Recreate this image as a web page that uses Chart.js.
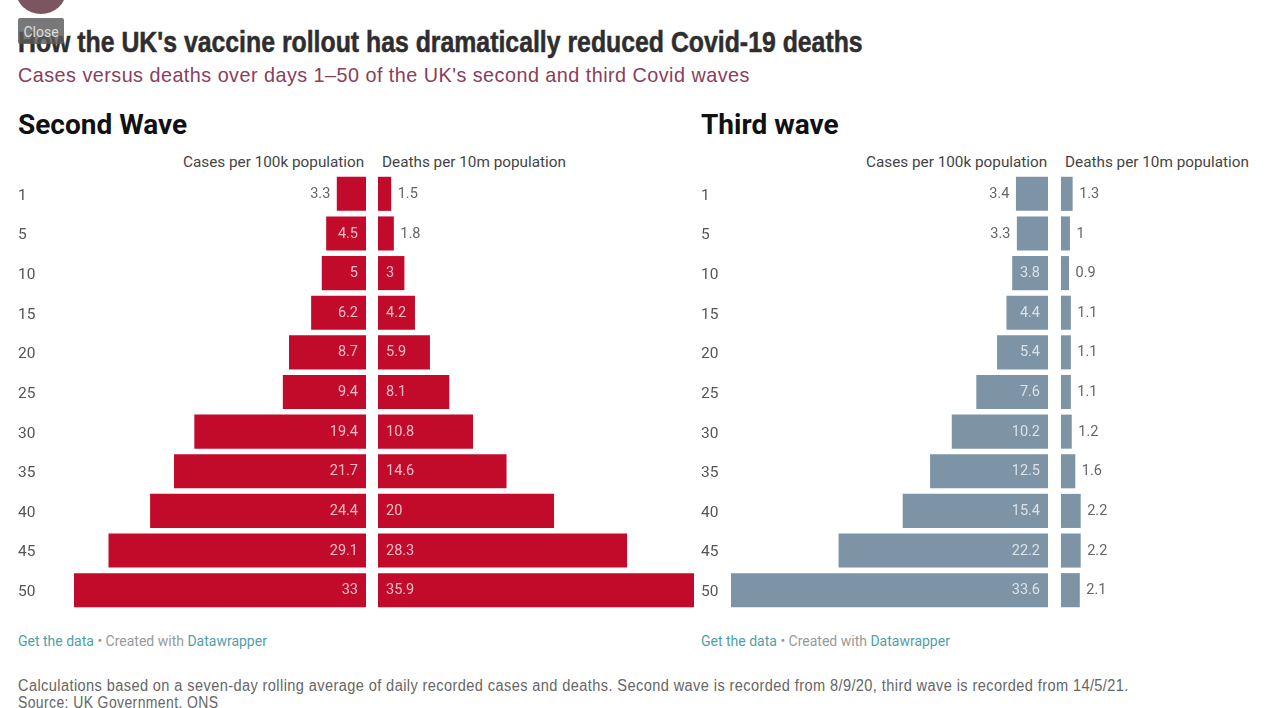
<!DOCTYPE html>
<html>
<head>
<meta charset="utf-8">
<title>UK vaccine rollout</title>
<script src="https://cdn.jsdelivr.net/npm/chart.js@4/dist/chart.umd.min.js"></script>
<style>
  html, body { margin: 0; padding: 0; background: #fff; width: 1280px; height: 708px; overflow: hidden; }
  body { position: relative; font-family: Roboto, sans-serif; }
  canvas { position: absolute; }
  .t { position: absolute; white-space: nowrap; line-height: 1; transform-origin: 0 0; }
  .title { left: 18px; top: 26px; font: bold 29px "Liberation Sans", sans-serif; color: #2e2e2e; transform: scaleX(.856); -webkit-text-stroke: .5px #2e2e2e; }
  .sub { left: 18px; top: 63px; font: 21px "Liberation Sans", sans-serif; color: #8a3d5c; letter-spacing: .5px; transform: scaleX(.942); }
  .wave { top: 108px; font: 700 28px Roboto, sans-serif; color: #111; }
  .head { top: 153px; font: 15.3px Roboto, sans-serif; color: #444; }
  .foot { top: 633px; font: 14px Roboto, sans-serif; color: #999; }
  .foot b { font-weight: 400; color: #4f9fa8; }
  .note { left: 18px; font: 16px "Liberation Sans", sans-serif; color: #666; letter-spacing: .45px; }
  .avatar { position: absolute; left: 16px; top: -32px; width: 50px; height: 46px; border-radius: 50%; background: #7b5560; }
  .close { position: absolute; left: 18px; top: 18px; width: 46px; height: 26px; background: rgba(90,90,90,.82); border-radius: 2px; color: #ddd; font: 14px Roboto, sans-serif; line-height: 29px; text-align: center; }
</style>
</head>
<body>
<div class="t title">How the UK's vaccine rollout has dramatically reduced Covid-19 deaths</div>
<div class="t sub">Cases versus deaths over days 1–50 of the UK's second and third Covid waves</div>
<div class="t wave" style="left:18px">Second Wave</div>
<div class="t wave" style="left:701px">Third wave</div>
<div class="t head" style="left:183px">Cases per 100k population</div>
<div class="t head" style="left:382px">Deaths per 10m population</div>
<div class="t head" style="left:866px">Cases per 100k population</div>
<div class="t head" style="left:1065px">Deaths per 10m population</div>

<canvas id="secondCases" style="left:18px;top:174px" width="348" height="436"></canvas>
<canvas id="secondDeaths" style="left:378px;top:174px" width="316" height="436"></canvas>
<canvas id="thirdCases" style="left:701px;top:174px" width="347" height="436"></canvas>
<canvas id="thirdDeaths" style="left:1061px;top:174px" width="60" height="436"></canvas>

<div class="t foot" style="left:18px"><b>Get the data</b> • Created with <b>Datawrapper</b></div>
<div class="t foot" style="left:701px"><b>Get the data</b> • Created with <b>Datawrapper</b></div>
<div class="t note" style="top:677px;transform:scaleX(.91)">Calculations based on a seven-day rolling average of daily recorded cases and deaths. Second wave is recorded from 8/9/20, third wave is recorded from 14/5/21.</div>
<div class="t note" style="top:694px;transform:scaleX(.873)">Source: UK Government, ONS</div>

<div class="avatar"></div>
<div class="close">Close</div>

<script>
const days = ['1', '5', '10', '15', '20', '25', '30', '35', '40', '45', '50']
const secondCases = [3.3, 4.5, 5, 6.2, 8.7, 9.4, 19.4, 21.7, 24.4, 29.1, 33]
const secondDeaths = [1.5, 1.8, 3, 4.2, 5.9, 8.1, 10.8, 14.6, 20, 28.3, 35.9]
const thirdCases = [3.4, 3.3, 3.8, 4.4, 5.4, 7.6, 10.2, 12.5, 15.4, 22.2, 33.6]
const thirdDeaths = [1.3, 1, 0.9, 1.1, 1.1, 1.1, 1.2, 1.6, 2.2, 2.2, 2.1]

const RED = '#c20a2b'
const GREY = '#7d94a6'

// value labels: inside the bar when it fits, otherwise just past the end
const valueLabels = {
  id: 'valueLabels',
  afterDatasetsDraw(chart) {
    const ctx = chart.ctx
    const reversed = chart.scales.x.options.reverse
    ctx.save()
    ctx.font = '14.5px Roboto'
    ctx.textBaseline = 'middle'
    ctx.textAlign = reversed ? 'right' : 'left'
    const dir = reversed ? -1 : 1
    chart.getDatasetMeta(0).data.forEach((bar, i) => {
      const text = String(chart.data.datasets[0].data[i])
      const len = Math.abs(bar.x - bar.base)
      const inside = len >= ctx.measureText(text).width + 14
      let x
      if (inside) {
        x = bar.base + dir * 8
        ctx.fillStyle = 'rgba(255,255,255,.72)'
      } else {
        x = bar.x + dir * 6.5
        ctx.fillStyle = '#666'
      }
      ctx.fillText(text, x, bar.y + 0.5)
    })
    ctx.restore()
  }
}

function pyramidSide(id, values, color, opts) {
  new Chart(document.getElementById(id), {
    type: 'bar',
    plugins: [valueLabels],
    data: {
      labels: days,
      datasets: [{
        data: values,
        backgroundColor: color,
        barPercentage: 1,
        categoryPercentage: 0.86
      }]
    },
    options: {
      indexAxis: 'y',
      responsive: false,
      animation: false,
      devicePixelRatio: 1,
      layout: { padding: 0 },
      plugins: { legend: { display: false }, tooltip: { enabled: false } },
      scales: {
        x: { display: false, reverse: opts.reverse, min: 0, max: opts.max },
        y: {
          display: opts.axisWidth > 0,
          afterFit: (scale) => {
            scale.width = opts.axisWidth
            // the rows have to fill the canvas, no room kept for half a label
            scale.paddingTop = 0
            scale.paddingBottom = 0
          },
          grid: { display: false },
          border: { display: false },
          ticks: {
            autoSkip: false,
            crossAlign: 'far',
            padding: 0,
            labelOffset: 2,
            color: '#555',
            font: { family: 'Roboto', size: 15.5 }
          }
        }
      }
    }
  })
}

pyramidSide('secondCases', secondCases, RED, { reverse: true, max: 33, axisWidth: 56 })
pyramidSide('secondDeaths', secondDeaths, RED, { reverse: false, max: 35.9, axisWidth: 0 })
pyramidSide('thirdCases', thirdCases, GREY, { reverse: true, max: 33.6, axisWidth: 30 })
pyramidSide('thirdDeaths', thirdDeaths, GREY, { reverse: false, max: 6.7, axisWidth: 0 })
</script>
</body>
</html>
